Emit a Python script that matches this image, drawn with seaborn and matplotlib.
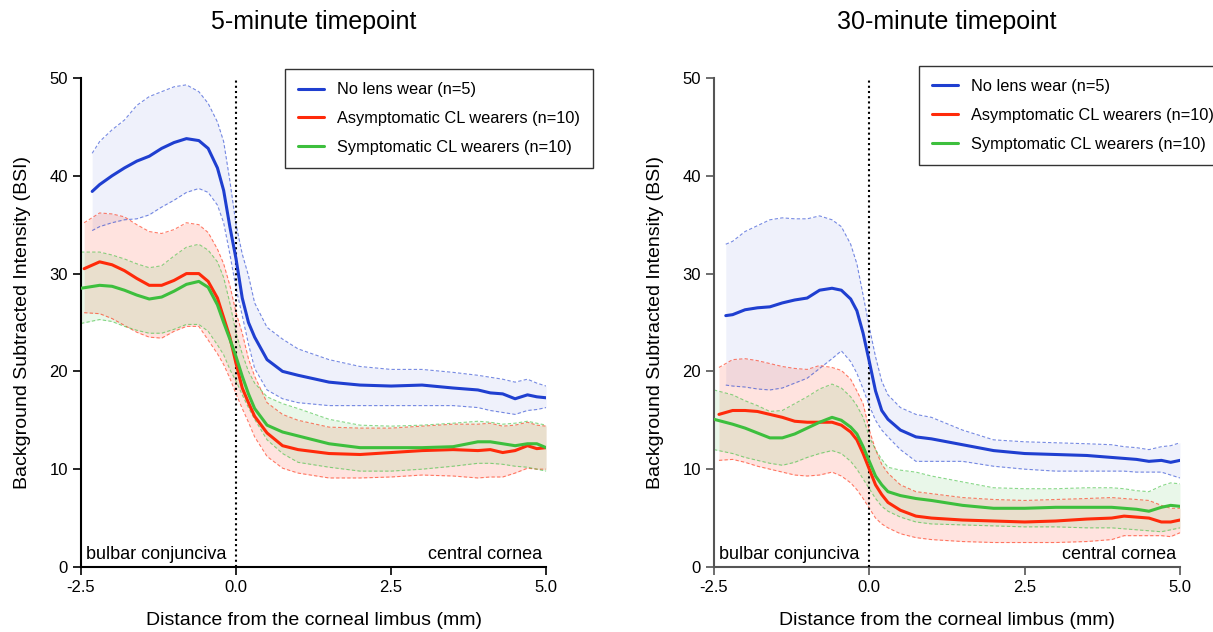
import numpy as np
import pandas as pd
import matplotlib
matplotlib.use("Agg")
import matplotlib.pyplot as plt
import seaborn as sns

sns.set_theme(style="ticks")
plt.rcParams['font.family'] = ['Liberation Sans', 'DejaVu Sans']
plt.rcParams['text.color'] = 'black'
plt.rcParams['axes.labelcolor'] = 'black'
plt.rcParams['xtick.color'] = 'black'
plt.rcParams['ytick.color'] = 'black'

# ---------------- data ----------------
GRID = [-2.2, -2.0, -1.8, -1.6, -1.4, -1.2, -1.0, -0.8, -0.6, -0.45, -0.3, -0.2, -0.1,
        0.0, 0.1, 0.2, 0.3, 0.5, 0.75, 1.0, 1.5, 2.0, 2.5, 3.0, 3.5, 3.9, 4.1, 4.3, 4.5,
        4.7, 4.85, 5.0]

# 5-minute timepoint
x5_blue = [-2.32] + GRID
y5_blue = [38.4, 39.1, 40.0, 40.8, 41.5, 42.0, 42.8, 43.4, 43.8, 43.6, 42.8, 40.8, 38.5, 34.8,
           31.5, 27.5, 25.0, 23.5, 21.2, 20.0, 19.6, 18.9, 18.6, 18.5, 18.6, 18.3, 18.1, 17.8,
           17.7, 17.2, 17.6, 17.4, 17.3]
u5_blue = [42.3, 43.5, 44.7, 45.7, 47.2, 48.1, 48.6, 49.1, 49.3, 48.6, 47.4, 45.5, 43.5, 39.5,
           35.0, 32.0, 29.8, 27.0, 24.5, 23.3, 22.3, 21.2, 20.5, 20.2, 20.2, 19.9, 19.6, 19.4,
           19.2, 18.9, 19.2, 18.8, 18.5]
l5_blue = [34.4, 34.8, 35.2, 35.5, 35.6, 36.0, 36.8, 37.5, 38.3, 38.7, 38.3, 37.0, 35.2, 32.0,
           28.5, 25.7, 22.8, 20.3, 18.1, 17.2, 16.8, 16.5, 16.5, 16.5, 16.5, 16.5, 16.3, 16.0,
           15.8, 15.6, 16.0, 16.1, 16.3]

x5_red = [-2.45] + GRID
y5_red = [30.5, 31.2, 30.9, 30.3, 29.5, 28.8, 28.8, 29.3, 30.0, 30.0, 29.2, 27.5, 25.5, 23.5,
          20.8, 18.3, 16.8, 15.4, 13.7, 12.4, 12.0, 11.6, 11.5, 11.7, 11.9, 12.0, 11.9, 12.0,
          11.7, 11.9, 12.4, 12.1, 12.2]
u5_red = [35.2, 36.2, 36.1, 35.8, 35.0, 34.3, 34.1, 34.5, 35.2, 35.0, 34.2, 32.5, 31.0, 28.8,
          26.0, 23.9, 21.3, 19.5, 16.8, 15.6, 15.0, 14.3, 14.2, 14.2, 14.4, 14.6, 14.6, 14.7,
          14.4, 14.5, 14.8, 14.5, 14.4]
l5_red = [26.0, 25.9, 25.4, 24.7, 24.0, 23.5, 23.4, 24.1, 24.6, 24.6, 23.2, 21.8, 20.7, 19.3,
          17.7, 16.2, 14.8, 13.3, 11.3, 10.1, 9.6, 9.1, 9.1, 9.2, 9.4, 9.3, 9.1, 9.2,
          9.2, 9.6, 10.1, 10.0, 10.0]

x5_green = [-2.5] + GRID
y5_green = [28.5, 28.8, 28.7, 28.3, 27.8, 27.4, 27.6, 28.2, 28.9, 29.2, 28.6, 26.8, 25.0, 23.3,
            21.5, 19.5, 17.7, 16.2, 14.5, 13.8, 13.4, 12.6, 12.2, 12.2, 12.2, 12.3, 12.8, 12.8,
            12.6, 12.4, 12.6, 12.6, 12.2]
u5_green = [32.2, 32.2, 31.9, 31.5, 31.0, 30.6, 30.8, 31.8, 32.7, 33.0, 32.4, 31.2, 29.6, 27.0,
            23.9, 21.8, 20.0, 18.8, 17.4, 16.7, 16.2, 15.1, 14.5, 14.4, 14.5, 14.7, 14.9, 14.8,
            14.6, 14.7, 14.9, 14.7, 14.5]
l5_green = [24.9, 25.3, 25.1, 24.6, 24.2, 23.9, 23.9, 24.3, 24.8, 24.8, 24.1, 22.7, 21.7, 20.2,
            19.0, 17.6, 16.3, 15.1, 13.0, 11.6, 10.7, 10.2, 9.8, 9.8, 10.0, 10.3, 10.6, 10.6,
            10.5, 10.3, 10.2, 10.0, 9.8]

# 30-minute timepoint
x30_blue = [-2.31] + GRID
y30_blue = [25.7, 25.8, 26.3, 26.5, 26.6, 27.0, 27.3, 27.5, 28.3, 28.5, 28.3, 27.4, 26.2, 23.9,
            21.0, 18.0, 16.0, 15.1, 14.0, 13.3, 13.1, 12.5, 11.9, 11.6, 11.5, 11.4, 11.2, 11.1,
            11.0, 10.8, 10.9, 10.7, 10.9]
u30_blue = [33.0, 33.3, 34.3, 34.9, 35.5, 35.7, 35.6, 35.6, 35.9, 35.5, 34.8, 33.0, 31.0, 27.8,
            24.5, 21.5, 19.0, 17.6, 16.3, 15.6, 15.3, 14.0, 13.0, 12.8, 12.7, 12.6, 12.5, 12.3,
            12.2, 12.0, 12.3, 12.4, 12.7]
l30_blue = [18.6, 18.5, 18.4, 18.2, 18.1, 18.3, 18.8, 19.3, 20.3, 21.3, 22.1, 21.0, 19.8, 18.2,
            16.5, 15.0, 14.0, 13.3, 12.0, 10.8, 10.8, 10.8, 10.3, 10.0, 9.8, 9.8, 9.8, 9.8,
            9.7, 9.7, 9.7, 9.4, 9.1]

x30_red = [-2.42] + GRID
y30_red = [15.6, 16.0, 16.0, 15.9, 15.6, 15.3, 14.9, 14.8, 14.8, 14.8, 14.5, 13.8, 13.0, 11.6,
           10.0, 8.4, 7.4, 6.6, 5.8, 5.2, 5.0, 4.8, 4.7, 4.6, 4.7, 4.9, 5.0, 5.2,
           5.1, 5.0, 4.6, 4.6, 4.8]
u30_red = [20.4, 21.2, 21.3, 21.1, 20.8, 20.5, 20.3, 20.2, 20.6, 20.4, 20.1, 19.2, 18.0, 16.7,
           14.0, 12.0, 10.5, 9.6, 8.4, 7.7, 7.5, 7.1, 6.9, 6.8, 6.9, 7.0, 7.1, 7.0,
           6.9, 6.8, 6.3, 6.0, 6.0]
l30_red = [10.9, 11.0, 10.7, 10.3, 10.0, 9.7, 9.4, 9.3, 9.4, 9.7, 9.3, 8.6, 7.9, 7.0,
           6.0, 5.0, 4.4, 4.0, 3.4, 3.0, 2.8, 2.6, 2.5, 2.5, 2.5, 2.6, 2.8, 3.2,
           3.2, 3.2, 3.2, 3.1, 3.5]

x30_green = [-2.5] + GRID
y30_green = [15.1, 14.6, 14.2, 13.7, 13.2, 13.2, 13.6, 14.2, 14.8, 15.3, 15.0, 14.3, 13.6, 12.3,
             10.8, 9.3, 8.4, 7.7, 7.3, 7.0, 6.8, 6.3, 6.0, 6.0, 6.1, 6.1, 6.1, 6.0,
             5.9, 5.7, 6.1, 6.3, 6.2]
u30_green = [18.1, 17.6, 17.0, 16.5, 15.9, 16.0, 16.7, 17.4, 18.2, 18.7, 18.3, 17.4, 16.5, 15.3,
             13.3, 12.0, 11.0, 10.2, 9.9, 9.7, 9.3, 8.7, 8.1, 8.0, 8.0, 8.1, 8.1, 8.0,
             7.8, 7.7, 8.3, 8.6, 8.5]
l30_green = [12.0, 11.6, 11.2, 10.9, 10.6, 10.4, 10.7, 11.2, 11.6, 11.9, 11.6, 10.8, 10.0, 9.0,
             8.0, 7.0, 6.2, 5.7, 5.1, 4.6, 4.4, 4.3, 4.2, 4.1, 4.1, 4.0, 4.0, 3.9,
             3.8, 3.7, 3.6, 3.8, 4.0]

LABELS = ["No lens wear (n=5)", "Asymptomatic CL wearers (n=10)", "Symptomatic CL wearers (n=10)"]
TITLES = ["5-minute timepoint", "30-minute timepoint"]
XTICKS = [-2.5, 0.0, 2.5, 5.0]
YTICKS = [0, 10, 20, 30, 40, 50]

COLORS = ["#1f3fd0", "#ff2a0a", "#3dbf3d"]
FILL_ALPHA = [0.07, 0.13, 0.11]

panels = [
    [(x5_blue, y5_blue, u5_blue, l5_blue), (x5_red, y5_red, u5_red, l5_red),
     (x5_green, y5_green, u5_green, l5_green)],
    [(x30_blue, y30_blue, u30_blue, l30_blue), (x30_red, y30_red, u30_red, l30_red),
     (x30_green, y30_green, u30_green, l30_green)],
]
LEGEND_ANCHORS = [(0.4387, 1.018), (0.44, 1.0245)]

fig = plt.figure(figsize=(12.13, 6.32), dpi=100)
axes = [fig.add_axes([0.0668, 0.1029, 0.3834, 0.7737]),
        fig.add_axes([0.5886, 0.1029, 0.3842, 0.7737])]

for pi, ax in enumerate(axes):
    for si, (xs, ys, us, ls) in enumerate(panels[pi]):
        c = COLORS[si]
        ax.fill_between(xs, ls, us, color=c, alpha=FILL_ALPHA[si], linewidth=0, zorder=1)
        ax.plot(xs, us, color=c, lw=0.8, ls=(0, (3, 2)), alpha=0.6, zorder=2)
        ax.plot(xs, ls, color=c, lw=0.8, ls=(0, (3, 2)), alpha=0.6, zorder=2)
    for si, (xs, ys, us, ls) in enumerate(panels[pi]):
        df = pd.DataFrame({"x": xs, "y": ys})
        sns.lineplot(data=df, x="x", y="y", ax=ax, color=COLORS[si], lw=2.2,
                     sort=False, label=LABELS[si], zorder=4)

    ax.axvline(0, ymin=0, ymax=1, color="black", ls=(0, (1, 1.5)), lw=1.5, zorder=3)
    ax.set_xlim(-2.5, 5.0)
    ax.set_ylim(0, 50)
    ax.set_xticks(XTICKS)
    ax.set_xticklabels([f"{v:.1f}" for v in XTICKS])
    ax.set_yticks(YTICKS)
    spine_col = "black" if pi == 0 else "#555555"
    ax.tick_params(labelsize=12, length=6, width=1.2, direction="out",
                   color=spine_col, labelcolor="black")
    for s in ["left", "bottom"]:
        ax.spines[s].set_linewidth(1.5)
        ax.spines[s].set_color(spine_col)
    sns.despine(ax=ax)
    ax.set_xlabel("Distance from the corneal limbus (mm)", fontsize=14, labelpad=12)
    ax.set_ylabel("Background Subtracted Intensity (BSI)", fontsize=14, labelpad=13)
    ax.set_title(TITLES[pi], fontsize=18, pad=35)
    ax.text(-2.42, 0.8, "bulbar conjunciva", fontsize=13, ha="left", va="baseline")
    ax.text(4.93, 0.8, "central cornea", fontsize=13, ha="right", va="baseline")

    leg = ax.legend(loc="upper left", bbox_to_anchor=LEGEND_ANCHORS[pi], fontsize=11.8,
                    frameon=True, fancybox=False, edgecolor="black", handlelength=1.6,
                    borderpad=0.8, labelspacing=0.85, handletextpad=0.8, borderaxespad=0)
    leg.get_frame().set_linewidth(1.0)
    for h in leg.get_lines():
        h.set_linewidth(2.2)

fig.savefig("out.png", dpi=100)
